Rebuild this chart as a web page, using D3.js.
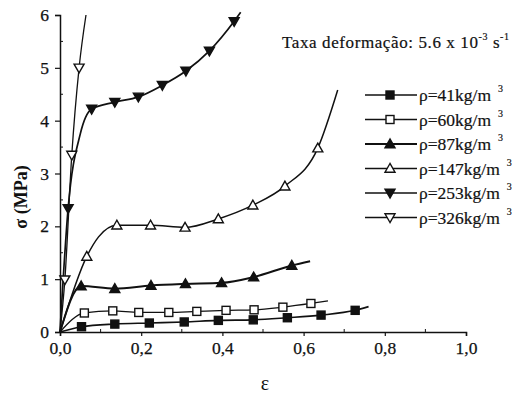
<!DOCTYPE html>
<html>
<head>
<meta charset="utf-8">
<script src="https://cdn.jsdelivr.net/npm/d3@7"></script>
<style>
  html, body { margin: 0; padding: 0; background: #fff; }
  svg { display: block; }
</style>
</head>
<body>
<div id="chart"></div>
<script>
/* stress-strain curves of foams at several densities */
(function () {
  "use strict";

  // series: [strain, stress MPa, marker?]; points flagged 0 only shape the curve
  var rho41 = [[0, 0, 0], [0.053, 0.10, 1], [0.135, 0.15, 1], [0.22, 0.17, 1], [0.306, 0.19, 1], [0.39, 0.22, 1],
               [0.476, 0.23, 1], [0.56, 0.27, 1], [0.643, 0.32, 1], [0.727, 0.41, 1], [0.76, 0.48, 0]];
  var rho60 = [[0, 0, 0], [0.06, 0.36, 1], [0.13, 0.40, 1], [0.194, 0.37, 1], [0.268, 0.37, 1], [0.337, 0.39, 1],
               [0.409, 0.41, 1], [0.478, 0.42, 1], [0.549, 0.47, 1], [0.618, 0.54, 1], [0.66, 0.59, 0]];
  var rho87 = [[0, 0, 0], [0.052, 0.87, 1], [0.135, 0.82, 1], [0.224, 0.88, 1], [0.309, 0.91, 1], [0.398, 0.93, 1],
               [0.477, 1.04, 1], [0.571, 1.26, 1], [0.616, 1.34, 0]];
  var rho147 = [[0, 0, 0], [0.066, 1.43, 1], [0.095, 1.80, 0], [0.14, 2.02, 1], [0.223, 2.02, 1], [0.308, 1.98, 1],
                [0.39, 2.14, 1], [0.475, 2.40, 1], [0.554, 2.76, 1], [0.635, 3.48, 1], [0.684, 4.58, 0]];
  var rho253 = [[0, 0, 0], [0.02, 2.34, 1], [0.05, 3.75, 0], [0.078, 4.22, 1], [0.135, 4.35, 1], [0.193, 4.45, 1],
                [0.252, 4.67, 1], [0.31, 4.94, 1], [0.368, 5.32, 1], [0.429, 5.88, 1], [0.445, 6.05, 0]];
  var rho326 = [[0, 0, 0], [0.012, 0.99, 1], [0.029, 3.35, 1], [0.047, 5.0, 1], [0.064, 6.0, 0]];

  var densities = ["41", "60", "87", "147", "253", "326"];
  var markerKinds = ["square-filled", "square-open", "tri-up-filled", "tri-up-open", "tri-down-filled", "tri-down-open"];
  var seriesData = [rho41, rho60, rho87, rho147, rho253, rho326];
  var lineWidths = [1.6, 1.3, 2, 1.5, 1.7, 1.3];

  var xTicks = [0, 0.2, 0.4, 0.6, 0.8, 1.0];
  var xMinor = [0.1, 0.3, 0.5, 0.7, 0.9];
  var yTicks = [0, 1, 2, 3, 4, 5, 6];
  var yMinor = [0.5, 1.5, 2.5, 3.5, 4.5, 5.5];

  var W = 521, H = 397;
  var SERIF = "'Liberation Serif', 'Times New Roman', serif";
  var INK = "#111";

  var x = d3.scaleLinear().domain([0, 1]).range([60, 466]);
  var y = d3.scaleLinear().domain([0, 6]).range([332, 15]);

  var svg = d3.select("#chart").append("svg").attr("width", W).attr("height", H);

  // ---------- axes ----------
  var xAxis = svg.append("g").attr("transform", "translate(0," + y(0) + ")")
    .call(d3.axisBottom(x).tickValues(xTicks).tickSize(4).tickPadding(6)
      .tickFormat(function (d) { return d3.format(".1f")(d).replace(".", ","); }));
  var yAxis = svg.append("g").attr("transform", "translate(" + x(0) + ",0)")
    .call(d3.axisLeft(y).tickValues(yTicks).tickSize(5).tickPadding(6).tickFormat(d3.format("d")));
  [xAxis, yAxis].forEach(function (a) {
    a.select(".domain").attr("stroke", INK).attr("stroke-width", 1.5);
    a.selectAll(".tick line").attr("stroke", INK).attr("stroke-width", 1.2);
    a.selectAll(".tick text").attr("font-family", SERIF).attr("font-size", 17.5).attr("fill", INK)
      .attr("stroke", INK).attr("stroke-width", 0.25);
  });
  // minor ticks point inward
  xMinor.forEach(function (t) {
    svg.append("line").attr("x1", x(t)).attr("x2", x(t)).attr("y1", y(0)).attr("y2", y(0) - 3).attr("stroke", INK);
  });
  yMinor.forEach(function (t) {
    svg.append("line").attr("x1", x(0)).attr("x2", x(0) + 3).attr("y1", y(t)).attr("y2", y(t)).attr("stroke", INK);
  });

  svg.append("text").attr("x", 265).attr("y", 390).attr("text-anchor", "middle")
    .attr("font-family", SERIF).attr("font-size", 20).attr("fill", INK).text("ε");
  svg.append("text").attr("transform", "translate(27,197) rotate(-90)").attr("text-anchor", "middle")
    .attr("font-family", SERIF).attr("font-size", 18).attr("font-weight", "bold").attr("fill", INK).text("σ (MPa)");

  // ---------- title ----------
  var title = svg.append("text").attr("x", 282).attr("y", 48).attr("font-family", SERIF)
    .attr("font-size", 17).attr("letter-spacing", 0.6).attr("fill", INK)
    .attr("stroke", INK).attr("stroke-width", 0.2);
  title.append("tspan").text("Taxa deformação: 5.6 x 10");
  title.append("tspan").attr("dy", -8).attr("font-size", 10).text("-3");
  title.append("tspan").attr("dy", 8).text(" s");
  title.append("tspan").attr("dy", -8).attr("font-size", 10).text("-1");

  // ---------- markers ----------
  function marker(sel, kind, cx, cy) {
    var filled = kind.indexOf("filled") > -1;
    var fill = filled ? INK : "#fff";
    if (kind.indexOf("square") === 0) {
      sel.append("rect").attr("x", cx - 4).attr("y", cy - 4).attr("width", 8).attr("height", 8)
        .attr("fill", fill).attr("stroke", INK).attr("stroke-width", 1.4);
    } else {
      var s = kind.indexOf("tri-up") === 0 ? 1 : -1, r = 5;
      var pts = [[cx, cy - s * r], [cx - r, cy + s * r * 0.75], [cx + r, cy + s * r * 0.75]];
      sel.append("path").attr("d", "M" + pts.join("L") + "Z")
        .attr("fill", fill).attr("stroke", INK).attr("stroke-width", 1.4).attr("stroke-linejoin", "miter");
    }
  }

  // ---------- curves ----------
  var line = d3.line().x(function (d) { return x(d[0]); }).y(function (d) { return y(d[1]); })
    .curve(d3.curveMonotoneX);
  var plot = svg.append("g");
  seriesData.forEach(function (s, i) {
    plot.append("path").attr("d", line(s)).attr("fill", "none").attr("stroke", INK)
      .attr("stroke-width", lineWidths[i]).attr("stroke-linejoin", "round");
    s.filter(function (d) { return d[2]; }).forEach(function (d) {
      marker(plot, markerKinds[i], x(d[0]), y(d[1]));
    });
  });

  // ---------- legend ----------
  var legend = svg.append("g");
  densities.forEach(function (rho, i) {
    var ly = 95 + i * 24.5;
    legend.append("line").attr("x1", 365).attr("x2", 417).attr("y1", ly).attr("y2", ly)
      .attr("stroke", INK).attr("stroke-width", lineWidths[i]);
    marker(legend, markerKinds[i], 390, ly);
    var t = legend.append("text").attr("x", 419).attr("y", ly + 6).attr("font-family", SERIF)
      .attr("font-size", 17.5).attr("fill", INK).attr("stroke", INK).attr("stroke-width", 0.2);
    t.append("tspan").text("ρ=" + rho + "kg/m");
    t.append("tspan").attr("dx", 7).attr("dy", -9).attr("font-size", 10).text("3");
  });
})();
</script>
</body>
</html>
